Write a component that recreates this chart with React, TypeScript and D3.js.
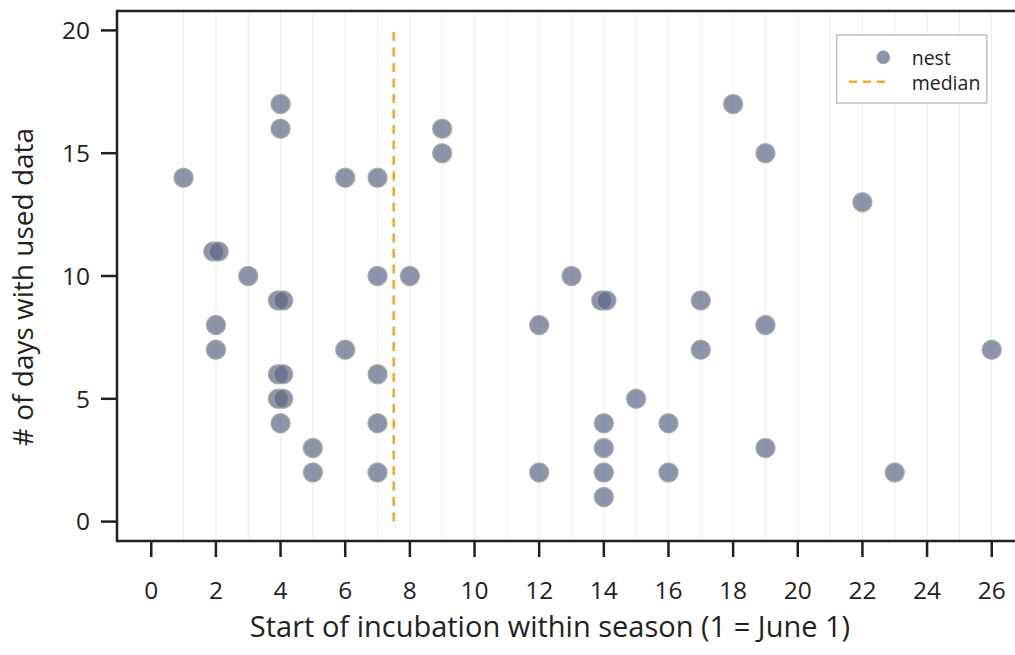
import React from "react";
import * as d3 from "d3";

// Data (x = start of incubation day, slightly jittered where points overlap)
const startDay: number[] = [
  1, 1.92, 2.08, 2, 2, 3,
  4, 4, 3.92, 4.08, 3.92, 4.08, 3.92, 4.08, 4,
  5, 5, 6, 6, 7, 7, 7, 7, 7, 8, 9, 9,
  12, 12, 13, 13.92, 14.08, 14, 14, 14, 14, 15, 16, 16, 17, 17,
  18, 19, 19, 19, 22, 23, 26,
];
const daysUsed: number[] = [
  14, 11, 11, 8, 7, 10,
  17, 16, 9, 9, 6, 6, 5, 5, 4,
  3, 2, 14, 7, 14, 10, 6, 4, 2, 10, 16, 15,
  8, 2, 10, 9, 9, 4, 3, 2, 1, 5, 4, 2, 9, 7,
  17, 15, 8, 3, 13, 2, 7,
];
const medianStart = 7.5;
const xTicks: number[] = [0, 2, 4, 6, 8, 10, 12, 14, 16, 18, 20, 22, 24, 26];
const xGrid: number[] = d3.range(1, 27);
const yTicks: number[] = [0, 5, 10, 15, 20];
const legendLabels: string[] = ["nest", "median"];

const FONT = "'Open Sans', 'Noto Sans', sans-serif";
const INK = "#231f20";
const ORANGE = "#f5aa1e";

export default function App() {
  const W = 1015, H = 655;
  const left = 117, right = 1015, top = 11, bottom = 541;
  const x = d3.scaleLinear().domain([-1.06, 26.72]).range([left, right]);
  const y = d3.scaleLinear().domain([-0.79, 20.79]).range([bottom, top]);
  const points = startDay.map((s, i) => ({ s, d: daysUsed[i] }));

  return (
    <svg width={W} height={H} style={{ position: "absolute", left: 0, top: 0, background: "#fff" }} fontFamily={FONT}>
      <rect x={0} y={0} width={W} height={H} fill="#fff" />
      {/* gridlines */}
      {xGrid.map((g) => (
        <line key={"g" + g} x1={x(g)} x2={x(g)} y1={top} y2={bottom} stroke="#ececec" strokeWidth={1} />
      ))}
      {/* median */}
      <line x1={x(medianStart)} x2={x(medianStart)} y1={y(0)} y2={y(20)} stroke={ORANGE} strokeWidth={2.5} strokeDasharray="9,6.5" />
      {/* points */}
      {points.map((p, i) => (
        <circle key={"p" + i} cx={x(p.s)} cy={y(p.d)} r={9.5} fill="#5c6685" fillOpacity={0.7} stroke="#a3a3a3" strokeOpacity={0.8} strokeWidth={1.5} />
      ))}
      {/* axes frame */}
      <line x1={left} x2={left} y1={top - 1.25} y2={bottom + 1.25} stroke={INK} strokeWidth={2.5} />
      <line x1={left} x2={right} y1={top} y2={top} stroke={INK} strokeWidth={2.5} />
      <line x1={left} x2={right} y1={bottom} y2={bottom} stroke={INK} strokeWidth={2.5} />
      {/* y ticks */}
      {yTicks.map((t) => (
        <g key={"y" + t}>
          <line x1={left - 16} x2={left} y1={y(t)} y2={y(t)} stroke={INK} strokeWidth={2.5} />
          <text x={90} y={y(t)} dy="0.36em" textAnchor="end" fontSize={24.5} fill={INK}>{t}</text>
        </g>
      ))}
      {/* x ticks */}
      {xTicks.map((t) => (
        <g key={"x" + t}>
          <line x1={x(t)} x2={x(t)} y1={bottom} y2={bottom + 16} stroke={INK} strokeWidth={2.5} />
          <text x={x(t)} y={599} textAnchor="middle" fontSize={24.5} fill={INK}>{t}</text>
        </g>
      ))}
      {/* axis titles */}
      <text x={550} y={637} textAnchor="middle" fontSize={29} fill={INK}>Start of incubation within season (1 = June 1)</text>
      <text transform={`translate(33,287) rotate(-90)`} textAnchor="middle" fontSize={28} fill={INK}># of days with used data</text>
      {/* legend */}
      <rect x={836.7} y={35} width={150} height={68} fill="#fff" stroke="#c0c0c0" strokeWidth={1.5} />
      <circle cx={883.3} cy={57.3} r={6.5} fill="#5c6685" fillOpacity={0.7} stroke="#a3a3a3" strokeOpacity={0.8} strokeWidth={1} />
      <text x={911.7} y={65} fontSize={19.5} fill={INK}>{legendLabels[0]}</text>
      <line x1={849} x2={889} y1={81.7} y2={81.7} stroke={ORANGE} strokeWidth={2.5} strokeDasharray="8,6" />
      <text x={911.7} y={89.5} fontSize={19.5} fill={INK}>{legendLabels[1]}</text>
    </svg>
  );
}
